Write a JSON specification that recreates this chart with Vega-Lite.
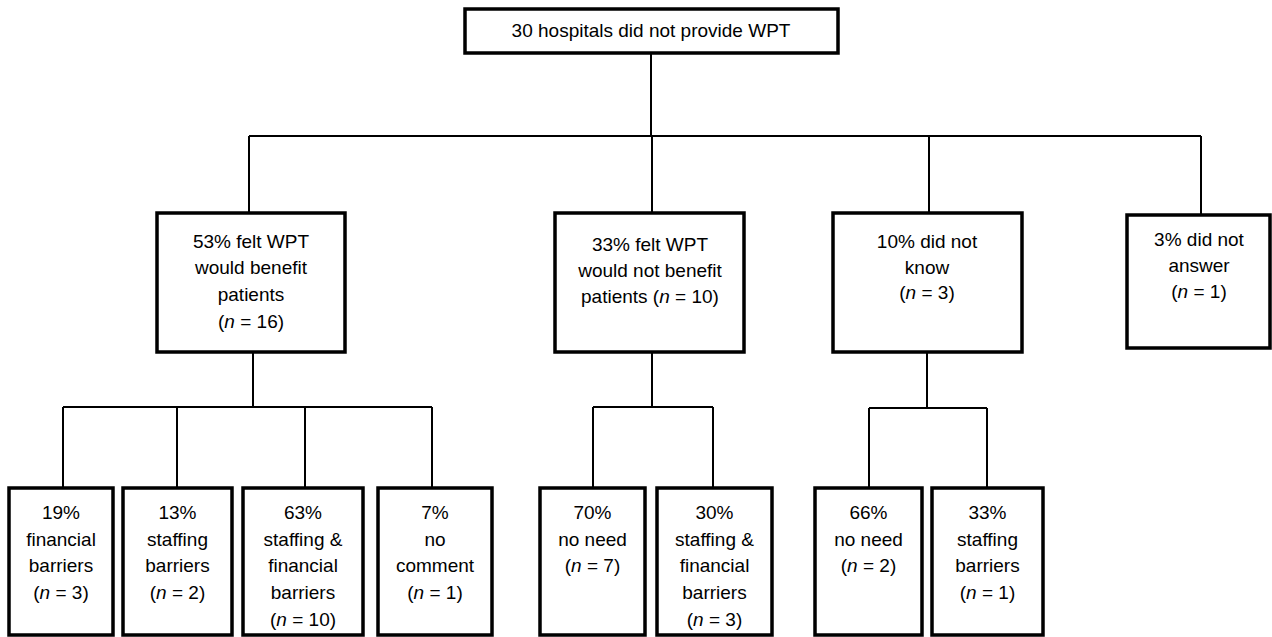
{
  "$schema": "https://vega.github.io/schema/vega-lite/v6.json",
  "width": 1272,
  "height": 637,
  "autosize": {"type": "fit", "contains": "padding"},
  "padding": 0,
  "background": "white",
  "config": {"view": {"stroke": null}},
  "layer": [
    {
      "data": {"values": [
        {"x": 651, "y": 53, "x2": 651, "y2": 136},
        {"x": 249, "y": 136, "x2": 1201, "y2": 136},
        {"x": 249, "y": 136, "x2": 249, "y2": 213},
        {"x": 652, "y": 136, "x2": 652, "y2": 213},
        {"x": 929, "y": 136, "x2": 929, "y2": 213},
        {"x": 1201, "y": 136, "x2": 1201, "y2": 215},
        {"x": 253, "y": 352, "x2": 253, "y2": 407},
        {"x": 63, "y": 407, "x2": 432, "y2": 407},
        {"x": 63, "y": 407, "x2": 63, "y2": 488},
        {"x": 177, "y": 407, "x2": 177, "y2": 488},
        {"x": 305, "y": 407, "x2": 305, "y2": 488},
        {"x": 432, "y": 407, "x2": 432, "y2": 488},
        {"x": 652, "y": 352, "x2": 652, "y2": 407},
        {"x": 593, "y": 407, "x2": 713, "y2": 407},
        {"x": 593, "y": 407, "x2": 593, "y2": 488},
        {"x": 713, "y": 407, "x2": 713, "y2": 488},
        {"x": 927, "y": 352, "x2": 927, "y2": 408},
        {"x": 869, "y": 408, "x2": 987, "y2": 408},
        {"x": 869, "y": 408, "x2": 869, "y2": 488},
        {"x": 987, "y": 408, "x2": 987, "y2": 488}
      ]},
      "mark": {"type": "rule", "color": "black", "strokeWidth": 2},
      "encoding": {
        "x": {"field": "x", "type": "quantitative", "scale": {"domain": [0, 1272], "nice": false, "zero": false}, "axis": null},
        "x2": {"field": "x2"},
        "y": {"field": "y", "type": "quantitative", "scale": {"domain": [0, 637], "nice": false, "zero": false, "reverse": true}, "axis": null},
        "y2": {"field": "y2"}
      }
    },
    {
      "data": {"values": [
        {"x": 465, "y": 9, "x2": 838, "y2": 53},
        {"x": 157, "y": 213, "x2": 345, "y2": 352},
        {"x": 555, "y": 213, "x2": 744, "y2": 352},
        {"x": 833, "y": 213, "x2": 1022, "y2": 352},
        {"x": 1127, "y": 215, "x2": 1270, "y2": 348},
        {"x": 9, "y": 488, "x2": 113, "y2": 635},
        {"x": 123, "y": 488, "x2": 232, "y2": 635},
        {"x": 243, "y": 488, "x2": 363, "y2": 635},
        {"x": 378, "y": 488, "x2": 492, "y2": 635},
        {"x": 540, "y": 488, "x2": 645, "y2": 635},
        {"x": 657, "y": 488, "x2": 772, "y2": 635},
        {"x": 815, "y": 488, "x2": 922, "y2": 635},
        {"x": 932, "y": 488, "x2": 1043, "y2": 635}
      ]},
      "mark": {"type": "rect", "fill": "white", "stroke": "black", "strokeWidth": 3.5},
      "encoding": {
        "x": {"field": "x", "type": "quantitative"},
        "x2": {"field": "x2"},
        "y": {"field": "y", "type": "quantitative"},
        "y2": {"field": "y2"}
      }
    },
    {
      "data": {"values": [
        {"x": 651, "y": 31, "t": "30 hospitals did not provide WPT"},
        {"x": 251, "y": 242, "t": "53% felt WPT"},
        {"x": 251, "y": 268, "t": "would benefit"},
        {"x": 251, "y": 295, "t": "patients"},
        {"x": 650, "y": 245, "t": "33% felt WPT"},
        {"x": 650, "y": 271, "t": "would not benefit"},
        {"x": 927, "y": 242, "t": "10% did not"},
        {"x": 927, "y": 268, "t": "know"},
        {"x": 1199, "y": 240, "t": "3% did not"},
        {"x": 1199, "y": 266, "t": "answer"},
        {"x": 61, "y": 513, "t": "19%"},
        {"x": 61, "y": 540, "t": "financial"},
        {"x": 61, "y": 566, "t": "barriers"},
        {"x": 177.5, "y": 513, "t": "13%"},
        {"x": 177.5, "y": 540, "t": "staffing"},
        {"x": 177.5, "y": 566, "t": "barriers"},
        {"x": 303, "y": 513, "t": "63%"},
        {"x": 303, "y": 540, "t": "staffing &"},
        {"x": 303, "y": 566, "t": "financial"},
        {"x": 303, "y": 593, "t": "barriers"},
        {"x": 435, "y": 513, "t": "7%"},
        {"x": 435, "y": 540, "t": "no"},
        {"x": 435, "y": 566, "t": "comment"},
        {"x": 592.5, "y": 513, "t": "70%"},
        {"x": 592.5, "y": 540, "t": "no need"},
        {"x": 714.5, "y": 513, "t": "30%"},
        {"x": 714.5, "y": 540, "t": "staffing &"},
        {"x": 714.5, "y": 566, "t": "financial"},
        {"x": 714.5, "y": 593, "t": "barriers"},
        {"x": 868.5, "y": 513, "t": "66%"},
        {"x": 868.5, "y": 540, "t": "no need"},
        {"x": 987.5, "y": 513, "t": "33%"},
        {"x": 987.5, "y": 540, "t": "staffing"},
        {"x": 987.5, "y": 566, "t": "barriers"}
      ]},
      "mark": {"type": "text", "font": "Liberation Sans", "fontSize": 19, "color": "black", "align": "center", "baseline": "middle"},
      "encoding": {
        "x": {"field": "x", "type": "quantitative"},
        "y": {"field": "y", "type": "quantitative"},
        "text": {"field": "t"}
      }
    },
    {
      "data": {"values": [
        {"cx": 251, "y": 322, "pre": "(", "post": "= 16)", "off": -21.4},
        {"cx": 650, "y": 297, "pre": "patients (", "post": "= 10)", "off": 14.5},
        {"cx": 927, "y": 293, "pre": "(", "post": "= 3)", "off": -16.1},
        {"cx": 1199, "y": 292, "pre": "(", "post": "= 1)", "off": -16.1},
        {"cx": 61, "y": 593, "pre": "(", "post": "= 3)", "off": -16.1},
        {"cx": 177.5, "y": 593, "pre": "(", "post": "= 2)", "off": -16.1},
        {"cx": 303, "y": 620, "pre": "(", "post": "= 10)", "off": -21.4},
        {"cx": 435, "y": 593, "pre": "(", "post": "= 1)", "off": -16.1},
        {"cx": 592.5, "y": 566, "pre": "(", "post": "= 7)", "off": -16.1},
        {"cx": 714.5, "y": 620, "pre": "(", "post": "= 3)", "off": -16.1},
        {"cx": 868.5, "y": 566, "pre": "(", "post": "= 2)", "off": -16.1},
        {"cx": 987.5, "y": 593, "pre": "(", "post": "= 1)", "off": -16.1}
      ]},
      "transform": [
        {"calculate": "datum.cx + datum.off", "as": "xn"},
        {"calculate": "datum.cx + datum.off - 5.3", "as": "xp"},
        {"calculate": "datum.cx + datum.off + 10.6", "as": "xq"}
      ],
      "layer": [
        {
          "mark": {"type": "text", "font": "Liberation Sans", "fontSize": 19, "color": "black", "align": "right", "baseline": "middle"},
          "encoding": {
            "x": {"field": "xp", "type": "quantitative"},
            "y": {"field": "y", "type": "quantitative"},
            "text": {"field": "pre"}
          }
        },
        {
          "mark": {"type": "text", "font": "Liberation Sans", "fontSize": 19, "fontStyle": "italic", "color": "black", "align": "center", "baseline": "middle", "text": "n"},
          "encoding": {
            "x": {"field": "xn", "type": "quantitative"},
            "y": {"field": "y", "type": "quantitative"}
          }
        },
        {
          "mark": {"type": "text", "font": "Liberation Sans", "fontSize": 19, "color": "black", "align": "left", "baseline": "middle"},
          "encoding": {
            "x": {"field": "xq", "type": "quantitative"},
            "y": {"field": "y", "type": "quantitative"},
            "text": {"field": "post"}
          }
        }
      ]
    }
  ]
}
